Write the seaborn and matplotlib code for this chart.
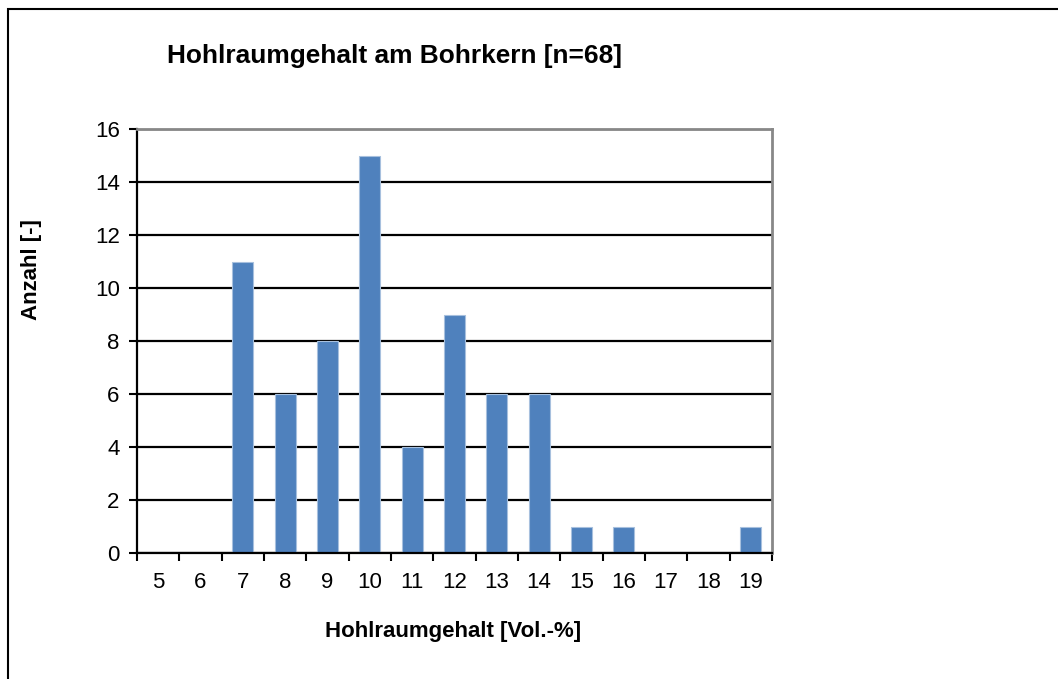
import matplotlib
matplotlib.use("Agg")
import matplotlib.pyplot as plt
import seaborn as sns
import pandas as pd
import numpy as np
from matplotlib.patches import Rectangle

categories = ["5", "6", "7", "8", "9", "10", "11", "12", "13", "14", "15", "16", "17", "18", "19"]
counts = [0, 0, 11, 6, 8, 15, 4, 9, 6, 6, 1, 1, 0, 0, 1]
yticks = [0, 2, 4, 6, 8, 10, 12, 14, 16]

sns.set_style("white")
plt.rcParams['font.family'] = ['Liberation Sans', 'DejaVu Sans']
plt.rcParams['text.color'] = 'black'
plt.rcParams['xtick.color'] = 'black'
plt.rcParams['ytick.color'] = 'black'

df = pd.DataFrame({"Hohlraumgehalt": categories, "Anzahl": counts})

fig = plt.figure(figsize=(10.58, 6.79), dpi=100)
W, H = 1058, 679
ax = fig.add_axes([137 / W, 1 - 553 / H, (772 - 137) / W, (553 - 129) / H])

sns.barplot(data=df, x="Hohlraumgehalt", y="Anzahl", order=categories, ax=ax,
            color="#4F81BD", saturation=1, width=0.5, edgecolor="#A7C0DE", linewidth=0.8)

ax.set_xlim(-0.5, len(categories) - 0.5)
ax.set_ylim(0, 16)
ax.set_yticks(yticks)
ax.set_yticklabels([str(v) for v in yticks], fontsize=16)
ax.set_xticks(range(len(categories)))
ax.set_xticklabels(categories, fontsize=16)
ax.set_xticks(np.arange(-0.5, len(categories)), minor=True)
ax.tick_params(axis='x', which='major', bottom=True, length=0, pad=14)
ax.tick_params(axis='x', which='minor', bottom=True, length=5.5, width=1.5, color='black', direction='out')
ax.tick_params(axis='y', which='major', left=True, length=5.5, width=1.5, color='black', direction='out', pad=7)
ax.yaxis.grid(True, color='black', linewidth=1.6)
ax.set_axisbelow(True)

for s in ['left', 'bottom']:
    ax.spines[s].set_color('black')
    ax.spines[s].set_linewidth(1.6)
for s in ['top', 'right']:
    ax.spines[s].set_color('#888888')
    ax.spines[s].set_linewidth(2)

ax.set_xlabel("")
ax.set_ylabel("")
fig.text(453 / W, 1 - 632 / H, "Hohlraumgehalt [Vol.-%]", ha='center', va='center',
         fontsize=16, fontweight='bold')
fig.text(31 / W, 1 - 270 / H, "Anzahl [-]", ha='center', va='center', rotation=90,
         fontsize=16, fontweight='bold')
fig.text(167 / W, 1 - 56 / H, "Hohlraumgehalt am Bohrkern [n=68]", ha='left', va='center',
         fontsize=18.9, fontweight='bold')

fig.patches.append(Rectangle((8 / W, -0.1), 1.2, 1 - 9 / H + 0.1, transform=fig.transFigure,
                             fill=False, edgecolor='black', linewidth=1.5))

fig.savefig("out.png", dpi=100)
